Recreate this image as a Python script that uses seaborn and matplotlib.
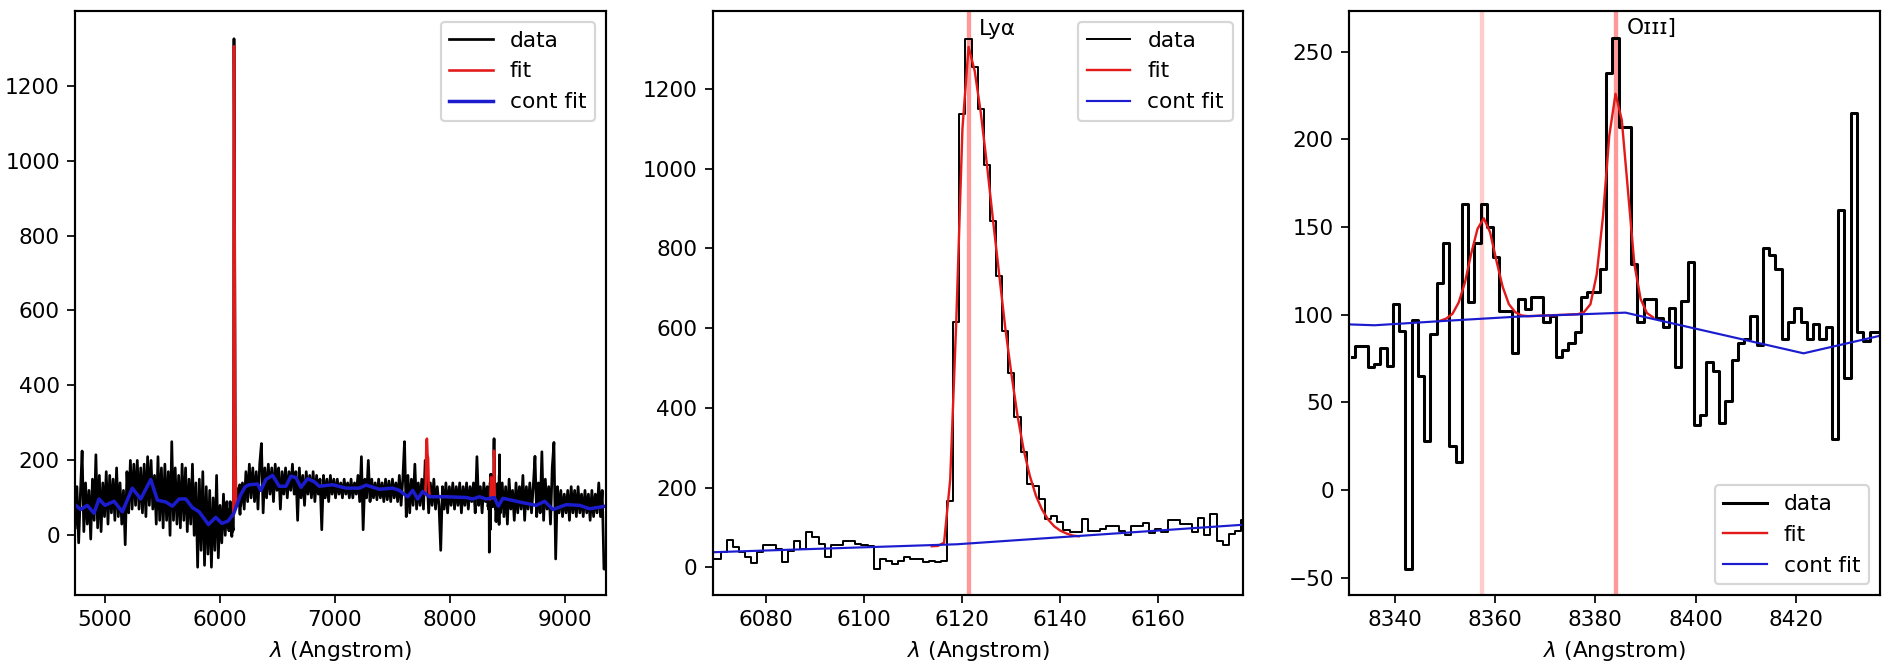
#!usr/bin/env python3

"""
Spectrum fit panels: full spectrum, Lya zoom, OIII] zoom
"""

import numpy as np
import seaborn as sns
import matplotlib.pyplot as plt

# ---- Lya window (pixel step 1.25 A) ----
lya_start = 6068.875
pix_step = 1.25
lya_flux = [22, 22, 39, 68, 52, 39, 26, 12, 39, 55, 55, 47, 14, 40, 65, 47, 90, 76, 59, 26,
            57, 57, 67, 67, 59, 57, 53, -3, 20, 17, 9, 15, 26, 22, 20, 14, 15, 14, 17,
            166, 616, 1136, 1325, 1255, 1150, 1008, 869, 730, 592, 487, 377, 290, 210, 205,
            171, 121, 128, 114, 93, 88, 88, 122, 91, 91, 97, 104, 104, 91, 81, 104, 104, 112,
            87, 97, 89, 118, 118, 110, 110, 89, 124, 81, 135, 66, 56, 85, 91, 118, 101]
# fit on pixels 36..60 of the window
lya_fit_first = 36
lya_fit = [53, 54, 62, 220, 620, 1100, 1305, 1245, 1140, 1010, 870, 735, 600, 485, 380,
           295, 230, 180, 145, 120, 103, 92, 85, 80, 78]
lya_cont_wave = [6069.1, 6119.0, 6177.5]
lya_cont = [38, 58, 107]
lya_center = 6121.5

# ---- OIII] window ----
o3_start = 8331.525
o3_flux = [76, 82, 82, 70, 72, 81, 71, 106, 91, -45, 97, 65, 28, 89, 118, 141, 25, 16, 163, 107,
           141, 163, 150, 133, 102, 102, 78, 109, 103, 110, 110, 96, 99, 76, 80,
           84, 90, 110, 113, 113, 126, 238, 258, 207, 207, 129, 96, 109, 109, 98, 93, 104, 70,
           108, 130, 37, 43, 73, 68, 38, 51, 74, 84, 86, 99, 83, 138, 134, 126, 86, 96, 104,
           96, 86, 95, 86, 93, 29, 160, 64, 215, 90, 85, 90, 90]
o3_fit_first = 14
o3_fit = [96.5, 97.8, 100.5, 107, 118.5, 135, 149, 155, 147, 131, 116, 106, 101.5, 99.6,
          99.2, 99.3, 99.5, 99.6, 99.7, 99.9, 100.0, 100.2, 100.3, 101.6,
          106, 123, 156, 202, 226, 211, 170, 129, 109, 101, 98.5]
o3_cont_wave = [8330.9, 8336.0, 8350.0, 8365.0, 8386.0, 8421.5, 8436.7]
o3_cont = [94.5, 94.0, 96.5, 99.0, 101.2, 78.0, 88.0]
o3_centers = [8357.5, 8384.2]
o3_alphas = [0.2, 0.4]

# ---- full spectrum, coarse parts outside the two windows (step 15 A) ----
coarse_step = 15
segA_start = 4740
segA = [20, 130, -20, 110, 225, 10, 140, 30, 120, -10, 150, 40, 215, 20, 160, 10, 140, 50,
        170, 30, 160, 60, 150, 40, 180, 50, 140, 30, 120, -25, 170, 60, 200, 70, 190, 80,
        200, 70, 180, 60, 190, 50, 210, 80, 200, 70, 160, 30, 210, 40, 180, 20, 190, 40,
        170, 0, 250, 40, 180, 30, 160, 20, 190, 40, 180, 10, 150, 30, 190, 0, 140, -85,
        150, -40, 170, -80, 130, -50, 120, -85, 100, -40, 160, -60, 80, -20, 110, 0, 90]
segB_start = 6180
segB = [80, 140, 70, 170, 90, 190, 100, 180, 90, 170, 70, 190, 245, 60, 180, 100, 190, 110,
        180, 90, 190, 120, 180, 70, 170, 110, 180, 100, 170, 120, 190, 110, 170, 40, 180,
        100, 160, 80, 170, 110, 160, 100, 170, 90, 160, 110, 150, 15, 160, 100, 150, 90,
        160, 110, 150, 100, 150, 110, 140, 100, 150, 110, 140, 100, 150, 100, 140, 110,
        160, 90, 210, 15, 150, 100, 200, 90, 150, 100, 140, 95, 150, 100, 140, 90, 150, 95,
        145, 90, 150, 100, 140, 90, 160, 80, 150, 250, 50, 160, 60, 150, 80, 190, 70, 140,
        80, 150, 70, 200, 160, 60, 140, 80, 150, 70, 130, 80, -40, 130, 70, 140, 60, 130,
        80, 140, 70, 130, 80, 140, 60, 130, 80, 140, 70, 130, 90, 140, 60, 210, 80, 130,
        60, 140, 90, 130]
segC_start = 8440
segC = [60, 140, 50, 130, 30, 150, 70, 120, 40, 140, 60, 130, 70, 160, 40, 130, 70, 140,
        60, 130, 211, 50, 140, 60, 223, 40, 150, 70, 130, 30, 180, 248, -63, 130, 60, 120,
        50, 110, 60, 120, 40, 130, 60, 120, 50, 130, 60, 110, 50, 120, 60, 110, 40, 120,
        50, 110, 60, 140, 50, 120, -90, -90]
full_cont_wave = [4738, 4787, 4845, 4903, 4947, 4999, 5078, 5150, 5237, 5310, 5397, 5455,
                  5528, 5586, 5644, 5702, 5760, 5818, 5899, 5963, 6016, 6069, 6119, 6177,
                  6220, 6254, 6326, 6355, 6399, 6457, 6515, 6573, 6617, 6660, 6704, 6762,
                  6820, 6863, 6979, 7096, 7212, 7270, 7386, 7502, 7560, 7633, 7676, 7720,
                  7763, 7822, 7967, 8141, 8199, 8257, 8315, 8386, 8421, 8461, 8606, 8751,
                  8824, 8896, 9012, 9128, 9216, 9357]
full_cont = [82, 69, 80, 59, 97, 80, 91, 63, 126, 97, 149, 94, 89, 78, 97, 97, 74, 63, 29,
             48, 32, 38, 58, 107, 130, 135, 137, 120, 149, 160, 131, 131, 158, 154, 128, 151,
             143, 131, 135, 126, 126, 134, 123, 126, 120, 103, 120, 97, 117, 103, 103, 101,
             97, 103, 97, 101, 78, 99, 89, 80, 91, 69, 82, 80, 71, 78]
civ_wave = [7785, 7790, 7795, 7800, 7805, 7810, 7815, 7822]
civ_fit = [110, 140, 250, 258, 215, 205, 140, 108]

DATA_C = "black"
FIT_C = "#e31a1a"
CONT_C = "#1c1ccf"

plt.rcParams["axes.linewidth"] = 1.0


def grid(start, step, values):
    """Regular pixel grid for a list of fluxes"""
    return start + step * np.arange(len(values))


lya_wave = grid(lya_start, pix_step, lya_flux)
o3_wave = grid(o3_start, pix_step, o3_flux)
lya_fit_wave = lya_wave[lya_fit_first:lya_fit_first + len(lya_fit)]
o3_fit_wave = o3_wave[o3_fit_first:o3_fit_first + len(o3_fit)]

full_wave = np.concatenate([grid(segA_start, coarse_step, segA), lya_wave,
                            grid(segB_start, coarse_step, segB), o3_wave,
                            grid(segC_start, coarse_step, segC)])
full_flux = np.concatenate([segA, lya_flux, segB, o3_flux, segC])

fig = plt.figure(figsize=(1884 / 156, 668 / 156), dpi=156)
ax1 = fig.add_axes([0.0398, 0.1088, 0.2818, 0.8747])
ax2 = fig.add_axes([0.3782, 0.1088, 0.2818, 0.8747])
ax3 = fig.add_axes([0.7160, 0.1088, 0.2818, 0.8747])

# panel 1: whole spectrum
sns.lineplot(x=full_wave, y=full_flux, ax=ax1, color=DATA_C, lw=1.25,
             sort=False, estimator=None, label="data")
sns.lineplot(x=lya_fit_wave, y=lya_fit, ax=ax1, color=FIT_C, lw=1.2, sort=False,
             estimator=None, label="fit")
sns.lineplot(x=civ_wave, y=civ_fit, ax=ax1, color=FIT_C, lw=1.2, sort=False, estimator=None)
sns.lineplot(x=o3_fit_wave, y=o3_fit, ax=ax1, color=FIT_C, lw=1.2, sort=False, estimator=None)
sns.lineplot(x=full_cont_wave, y=full_cont, ax=ax1, color=CONT_C, lw=1.6, sort=False,
             estimator=None, label="cont fit")
ax1.set_xlim(4738, 9357)
ax1.set_ylim(-160, 1399)
ax1.legend(loc="upper right")

# panel 2: Lya
ax2.axvline(lya_center, color="red", alpha=0.4, lw=2.0, zorder=0)
sns.lineplot(x=lya_wave, y=lya_flux, ax=ax2, color=DATA_C, lw=0.9, drawstyle="steps-mid",
             sort=False, estimator=None, label="data")
sns.lineplot(x=lya_fit_wave, y=lya_fit, ax=ax2, color=FIT_C, lw=1.1, sort=False,
             estimator=None, label="fit")
sns.lineplot(x=lya_cont_wave, y=lya_cont, ax=ax2, color=CONT_C, lw=1.0, sort=False,
             estimator=None, label="cont fit")
ax2.text(lya_center + 2, max(lya_flux), "Ly\u03b1", va="bottom", fontsize=10)
ax2.set_xlim(6069.1, 6177.5)
ax2.set_ylim(-70, 1395)
ax2.legend(loc="upper right")

# panel 3: OIII]
for c, a in zip(o3_centers, o3_alphas):
    ax3.axvline(c, color="red", alpha=a, lw=2.0, zorder=0)
sns.lineplot(x=o3_wave, y=o3_flux, ax=ax3, color=DATA_C, lw=1.4, drawstyle="steps-mid",
             sort=False, estimator=None, label="data")
sns.lineplot(x=o3_fit_wave, y=o3_fit, ax=ax3, color=FIT_C, lw=1.1, sort=False,
             estimator=None, label="fit")
sns.lineplot(x=o3_cont_wave, y=o3_cont, ax=ax3, color=CONT_C, lw=1.0, sort=False,
             estimator=None, label="cont fit")
ax3.text(o3_centers[1] + 2, max(o3_flux), "O\u026a\u026a\u026a]", va="bottom", fontsize=10)
ax3.set_xlim(8330.9, 8436.7)
ax3.set_ylim(-60, 273.2)
ax3.legend(loc="lower right")

for ax in (ax1, ax2, ax3):
    ax.set_xlabel(r"$\lambda$ (Angstrom)", fontsize=10)
    ax.set_ylabel("")

plt.savefig("out.png", dpi=156)
